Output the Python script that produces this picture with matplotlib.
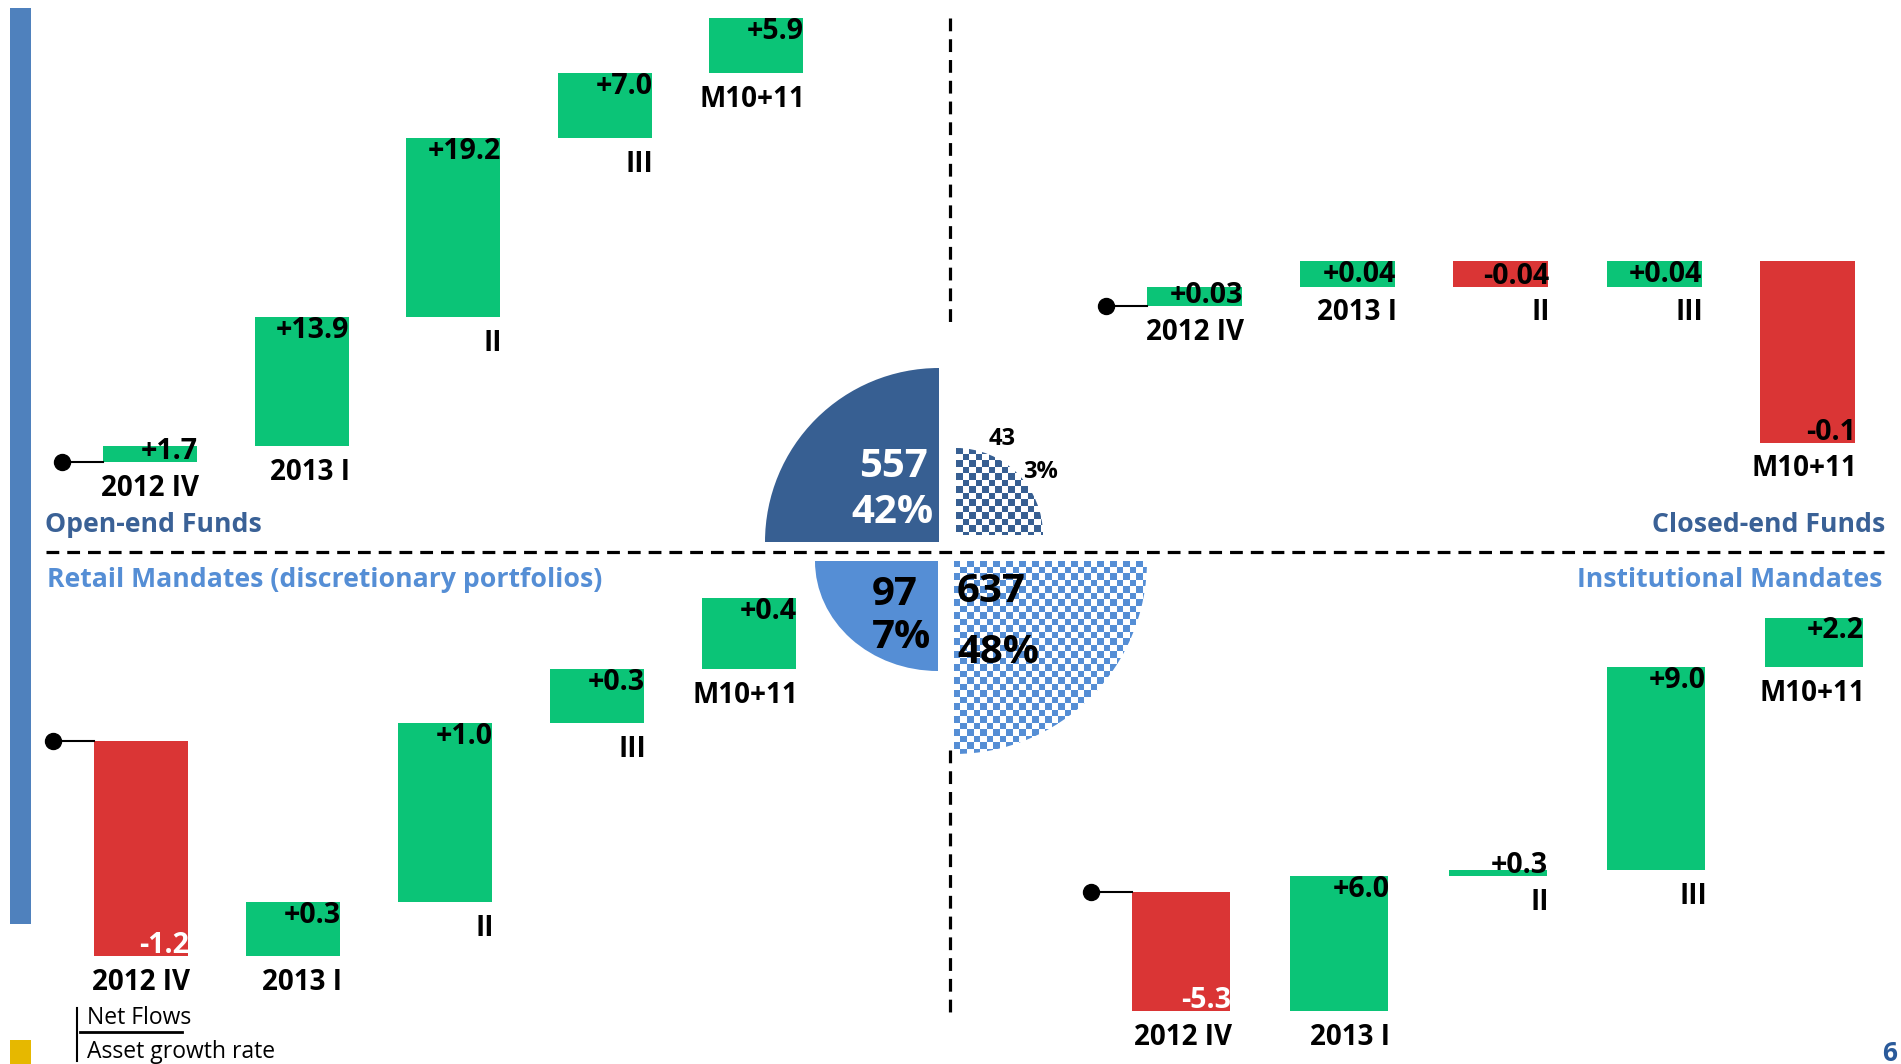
import numpy as np
import matplotlib
matplotlib.use("Agg")
import matplotlib.pyplot as plt
from matplotlib.patches import Wedge, Ellipse, Rectangle
from matplotlib.colors import to_rgb

# --- data -------------------------------------------------------------
periods = ["2012 IV", "2013 I", "II", "III", "M10+11"]

open_end_flows = [1.7, 13.9, 19.2, 7.0, 5.9]
retail_flows = [-1.2, 0.3, 1.0, 0.3, 0.4]
institutional_flows = [-5.3, 6.0, 0.3, 9.0, 2.2]
closed_end_labels = ["+0.03", "+0.04", "-0.04", "+0.04", "-0.1"]
# the closed-end bars in the original are not drawn to scale with the printed figures
closed_end_drawn = [0.03, 0.04, -0.04, 0.04, -0.28]

asset_totals = [557, 43, 97, 637]   # open-end, closed-end, retail, institutional
asset_shares = [42, 3, 7, 48]

# --- style ------------------------------------------------------------
W, H = 1901, 1064
GREEN = "#0BC477"
RED = "#DA3535"
DARK_BLUE = "#375F92"
LIGHT_BLUE = "#558ED5"
TITLE_DARK = "#3A6196"

plt.rcParams["font.family"] = ["Open Sans", "DejaVu Sans"]

fig = plt.figure(figsize=(W / 100, H / 100), dpi=100)
ax = fig.add_axes([0, 0, 1, 1])
ax.set_xlim(0, W)
ax.set_ylim(H, 0)
ax.axis("off")

# side bar and yellow marker
ax.add_patch(Rectangle((10, 8), 21, 916, color="#4F81BD", lw=0))
ax.add_patch(Rectangle((10, 1040), 21, 30, color="#E6B800", lw=0))

# dashed separators
dash = dict(color="black", lw=2.3, ls=(0, (4, 2.5)))
ax.plot([46, 1884], [552, 552], **dash)
ax.plot([950, 950], [18, 327], **dash)
ax.plot([950, 950], [750, 1015], **dash)


def checker(wedge, color, cell=6.5):
    ax.add_patch(wedge)
    x0, y0, x1, y1 = wedge.get_path().get_extents(wedge.get_patch_transform()).extents
    nx = int(np.ceil((x1 - x0) / cell)) + 1
    ny = int(np.ceil((y1 - y0) / cell)) + 1
    grid = np.add.outer(np.arange(ny), np.arange(nx)) % 2
    rgb = np.where(grid[..., None] == 0, np.array(to_rgb(color)), np.ones(3))
    im = ax.imshow(rgb, extent=(x0, x0 + nx * cell, y0 + ny * cell, y0),
                   interpolation="nearest", zorder=2)
    im.set_clip_path(wedge)


# central quarter "pie"
ax.add_patch(Wedge((939, 542), 174, 180, 270, fc=DARK_BLUE, ec="none"))
checker(Wedge((956, 535), 87, 270, 360, fc="none", ec="none"), DARK_BLUE)
clip = Rectangle((800, 561), 138, 130, fc="none", ec="none")
ax.add_patch(clip)
ell = Ellipse((938, 561), 246, 220, fc=LIGHT_BLUE, ec="none")
ax.add_patch(ell)
ell.set_clip_path(clip)
checker(Wedge((954, 561), 193, 0, 90, fc="none", ec="none"), LIGHT_BLUE)
ax.set_xlim(0, W)
ax.set_ylim(H, 0)
ax.set_aspect("auto")

big = dict(fontsize=29, fontweight="bold", va="baseline")
ax.text(893, 477, str(asset_totals[0]), color="white", ha="center", **big)
ax.text(892, 523, f"{asset_shares[0]}%", color="white", ha="center", **big)
ax.text(1002, 445, str(asset_totals[1]), color="black", ha="center", fontsize=17,
        fontweight="bold", va="baseline")
ax.text(1040, 478, f"{asset_shares[1]}%", color="black", ha="center", fontsize=17,
        fontweight="bold", va="baseline")
ax.text(872, 605, str(asset_totals[2]), color="black", ha="left", **big)
ax.text(872, 648, f"{asset_shares[2]}%", color="black", ha="left", **big)
ax.text(957, 602, str(asset_totals[3]), color="black", ha="left", **big)
ax.text(957, 663, f"{asset_shares[3]}%", color="black", ha="left", **big)

# quadrant titles
ttl = dict(fontsize=19.2, fontweight="bold", va="baseline")
ax.text(45, 532, "Open-end Funds", color=TITLE_DARK, ha="left", **ttl)
ax.text(1885, 532, "Closed-end Funds", color=TITLE_DARK, ha="right", **ttl)
ax.text(47, 587, "Retail Mandates (discretionary portfolios)", color=LIGHT_BLUE, ha="left", **ttl)
ax.text(1882, 587, "Institutional Mandates", color=LIGHT_BLUE, ha="right", **ttl)

# legend
ax.plot([77, 77], [1008, 1061], color="black", lw=1.5)
ax.plot([80, 182], [1032, 1032], color="black", lw=2)
ax.text(87, 1024, "Net Flows", fontsize=16.5, va="baseline", ha="left")
ax.text(87, 1058, "Asset growth rate", fontsize=16.5, va="baseline", ha="left")
ax.text(1897, 1061, "6", fontsize=19, fontweight="bold", color="#2A5A9A",
        ha="right", va="baseline")

# --- waterfalls -------------------------------------------------------
quadrants = [
    (open_end_flows, [f"{v:+.1f}" for v in open_end_flows],
     dict(cx0=150, sp=151.5, w=94, y0=462, k=9.3, neg="white")),
    (closed_end_drawn, closed_end_labels,
     dict(cx0=1194.5, sp=153.2, w=95, y0=306, k=650, neg="black")),
    (retail_flows, [f"{v:+.1f}" for v in retail_flows],
     dict(cx0=141, sp=152, w=94, y0=741, k=179, neg="white")),
    (institutional_flows, [f"{v:+.1f}" for v in institutional_flows],
     dict(cx0=1181, sp=158.3, w=98, y0=892, k=22.5, neg="white")),
]


def img_xy(axq, x, y):
    dx, dy = axq.transData.transform((x, y))
    return dx, H - dy


for heights, labels, lay in quadrants:
    axq = fig.add_axes([0, 0, 1, 1])
    axq.axis("off")
    axq.patch.set_alpha(0)
    axq.set_xlim(-lay["cx0"] / lay["sp"], (W - lay["cx0"]) / lay["sp"])
    axq.set_ylim((lay["y0"] - H) / lay["k"], lay["y0"] / lay["k"])

    x = np.arange(len(heights))
    bottoms = np.concatenate([[0], np.cumsum(heights)[:-1]])
    bw = lay["w"] / lay["sp"]
    colors = [GREEN if h > 0 else RED for h in heights]
    axq.bar(x, heights, bottom=bottoms, width=bw, color=colors, lw=0)

    # start marker
    left0 = -bw / 2
    dot_x = left0 - 41 / lay["sp"]
    axq.plot([dot_x, left0], [0, 0], color="black", lw=1.5)
    axq.plot([dot_x], [0], "o", color="black", ms=11.5)

    for i, h in enumerate(heights):
        lo, hi = min(bottoms[i], bottoms[i] + h), max(bottoms[i], bottoms[i] + h)
        xr, y_hi = img_xy(axq, i + bw / 2, hi)
        _, y_lo = img_xy(axq, i + bw / 2, lo)
        if h > 0:
            base, col = min(y_lo - 3, y_hi + 21), "black"
        else:
            base, col = y_lo - 3, lay["neg"]
        axq.text(xr + 1, base, labels[i], transform=ax.transData, ha="right",
                 va="baseline", fontsize=20.5, fontweight="bold", color=col)
        axq.text(xr + 2, y_lo + 34, periods[i], transform=ax.transData, ha="right",
                 va="baseline", fontsize=20, fontweight="bold", color="black")

fig.savefig("out.png", dpi=100)
